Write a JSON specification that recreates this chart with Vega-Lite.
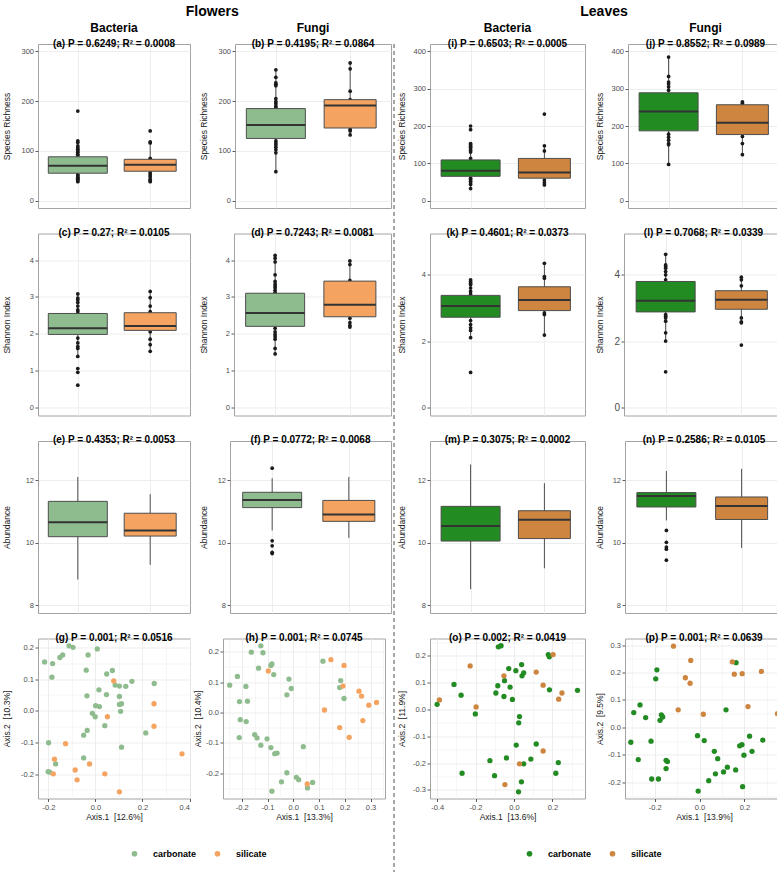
{
"$schema": "https://vega.github.io/schema/vega-lite/v6.json",
"padding": {"left": 1, "top": 4, "right": 0, "bottom": 2},
"background": "white",
"datasets": {
"bx": [
{"p":"a","type":"carbonate","lo":38,"q1":55,"med":70,"q3":88,"hi":120},
{"p":"a","type":"silicate","lo":38,"q1":59,"med":72,"q3":83,"hi":118},
{"p":"b","type":"carbonate","lo":58,"q1":125,"med":152,"q3":185,"hi":263},
{"p":"b","type":"silicate","lo":132,"q1":146,"med":191,"q3":203,"hi":277},
{"p":"i","type":"carbonate","lo":32,"q1":65,"med":80,"q3":109,"hi":153},
{"p":"i","type":"silicate","lo":42,"q1":60,"med":75,"q3":113,"hi":147},
{"p":"j","type":"carbonate","lo":97,"q1":187,"med":239,"q3":289,"hi":385},
{"p":"j","type":"silicate","lo":123,"q1":177,"med":209,"q3":257,"hi":265},
{"p":"c","type":"carbonate","lo":1.35,"q1":1.98,"med":2.15,"q3":2.55,"hi":3.08},
{"p":"c","type":"silicate","lo":1.52,"q1":2.09,"med":2.21,"q3":2.57,"hi":3.15},
{"p":"d","type":"carbonate","lo":1.45,"q1":2.2,"med":2.56,"q3":3.1,"hi":4.13},
{"p":"d","type":"silicate","lo":2.18,"q1":2.46,"med":2.79,"q3":3.43,"hi":3.98},
{"p":"k","type":"carbonate","lo":2.1,"q1":2.72,"med":3.06,"q3":3.38,"hi":3.85},
{"p":"k","type":"silicate","lo":2.18,"q1":2.92,"med":3.24,"q3":3.64,"hi":4.35},
{"p":"l","type":"carbonate","lo":2.0,"q1":2.88,"med":3.22,"q3":3.8,"hi":4.62},
{"p":"l","type":"silicate","lo":2.55,"q1":2.96,"med":3.25,"q3":3.52,"hi":3.93},
{"p":"e","type":"carbonate","lo":8.82,"q1":10.19,"med":10.65,"q3":11.32,"hi":12.1},
{"p":"e","type":"silicate","lo":9.29,"q1":10.21,"med":10.39,"q3":10.94,"hi":11.55},
{"p":"f","type":"carbonate","lo":10.39,"q1":11.12,"med":11.36,"q3":11.61,"hi":12.06},
{"p":"f","type":"silicate","lo":10.15,"q1":10.68,"med":10.9,"q3":11.35,"hi":12.1},
{"p":"m","type":"carbonate","lo":8.51,"q1":10.05,"med":10.53,"q3":11.16,"hi":12.5},
{"p":"m","type":"silicate","lo":9.18,"q1":10.13,"med":10.73,"q3":11.02,"hi":11.9},
{"p":"n","type":"carbonate","lo":10.71,"q1":11.14,"med":11.49,"q3":11.6,"hi":12.29},
{"p":"n","type":"silicate","lo":9.83,"q1":10.74,"med":11.17,"q3":11.46,"hi":12.36},
{"p":"a","type":"carbonate","v":180},{"p":"a","type":"carbonate","v":120},{"p":"a","type":"carbonate","v":117},{"p":"a","type":"carbonate","v":110},{"p":"a","type":"carbonate","v":106},{"p":"a","type":"carbonate","v":103},{"p":"a","type":"carbonate","v":100},{"p":"a","type":"carbonate","v":97},{"p":"a","type":"carbonate","v":93},{"p":"a","type":"carbonate","v":90},{"p":"a","type":"carbonate","v":52},{"p":"a","type":"carbonate","v":50},{"p":"a","type":"carbonate","v":47},{"p":"a","type":"carbonate","v":45},{"p":"a","type":"carbonate","v":43},{"p":"a","type":"carbonate","v":40},{"p":"a","type":"carbonate","v":38},
{"p":"a","type":"silicate","v":140},{"p":"a","type":"silicate","v":118},{"p":"a","type":"silicate","v":116},{"p":"a","type":"silicate","v":85},{"p":"a","type":"silicate","v":56},{"p":"a","type":"silicate","v":52},{"p":"a","type":"silicate","v":48},{"p":"a","type":"silicate","v":43},{"p":"a","type":"silicate","v":40},{"p":"a","type":"silicate","v":38},
{"p":"b","type":"carbonate","v":263},{"p":"b","type":"carbonate","v":248},{"p":"b","type":"carbonate","v":237},{"p":"b","type":"carbonate","v":234},{"p":"b","type":"carbonate","v":231},{"p":"b","type":"carbonate","v":205},{"p":"b","type":"carbonate","v":199},{"p":"b","type":"carbonate","v":195},{"p":"b","type":"carbonate","v":190},{"p":"b","type":"carbonate","v":187},{"p":"b","type":"carbonate","v":120},{"p":"b","type":"carbonate","v":116},{"p":"b","type":"carbonate","v":112},{"p":"b","type":"carbonate","v":107},{"p":"b","type":"carbonate","v":102},{"p":"b","type":"carbonate","v":96},{"p":"b","type":"carbonate","v":58},
{"p":"b","type":"silicate","v":277},{"p":"b","type":"silicate","v":265},{"p":"b","type":"silicate","v":220},{"p":"b","type":"silicate","v":203},{"p":"b","type":"silicate","v":143},{"p":"b","type":"silicate","v":140},{"p":"b","type":"silicate","v":132},
{"p":"i","type":"carbonate","v":200},{"p":"i","type":"carbonate","v":190},{"p":"i","type":"carbonate","v":153},{"p":"i","type":"carbonate","v":150},{"p":"i","type":"carbonate","v":146},{"p":"i","type":"carbonate","v":142},{"p":"i","type":"carbonate","v":138},{"p":"i","type":"carbonate","v":134},{"p":"i","type":"carbonate","v":130},{"p":"i","type":"carbonate","v":113},{"p":"i","type":"carbonate","v":60},{"p":"i","type":"carbonate","v":56},{"p":"i","type":"carbonate","v":52},{"p":"i","type":"carbonate","v":47},{"p":"i","type":"carbonate","v":43},{"p":"i","type":"carbonate","v":32},
{"p":"i","type":"silicate","v":232},{"p":"i","type":"silicate","v":147},{"p":"i","type":"silicate","v":133},{"p":"i","type":"silicate","v":55},{"p":"i","type":"silicate","v":48},{"p":"i","type":"silicate","v":42},
{"p":"j","type":"carbonate","v":385},{"p":"j","type":"carbonate","v":333},{"p":"j","type":"carbonate","v":318},{"p":"j","type":"carbonate","v":313},{"p":"j","type":"carbonate","v":305},{"p":"j","type":"carbonate","v":296},{"p":"j","type":"carbonate","v":178},{"p":"j","type":"carbonate","v":170},{"p":"j","type":"carbonate","v":162},{"p":"j","type":"carbonate","v":153},{"p":"j","type":"carbonate","v":150},{"p":"j","type":"carbonate","v":97},
{"p":"j","type":"silicate","v":265},{"p":"j","type":"silicate","v":261},{"p":"j","type":"silicate","v":172},{"p":"j","type":"silicate","v":153},{"p":"j","type":"silicate","v":123},
{"p":"c","type":"carbonate","v":3.08},{"p":"c","type":"carbonate","v":2.97},{"p":"c","type":"carbonate","v":2.92},{"p":"c","type":"carbonate","v":2.85},{"p":"c","type":"carbonate","v":2.75},{"p":"c","type":"carbonate","v":2.65},{"p":"c","type":"carbonate","v":2.6},{"p":"c","type":"carbonate","v":1.88},{"p":"c","type":"carbonate","v":1.75},{"p":"c","type":"carbonate","v":1.65},{"p":"c","type":"carbonate","v":1.6},{"p":"c","type":"carbonate","v":1.38},{"p":"c","type":"carbonate","v":1.05},{"p":"c","type":"carbonate","v":0.95},{"p":"c","type":"carbonate","v":0.6},
{"p":"c","type":"silicate","v":3.15},{"p":"c","type":"silicate","v":2.98},{"p":"c","type":"silicate","v":2.75},{"p":"c","type":"silicate","v":2.6},{"p":"c","type":"silicate","v":2.05},{"p":"c","type":"silicate","v":1.85},{"p":"c","type":"silicate","v":1.7},{"p":"c","type":"silicate","v":1.52},
{"p":"d","type":"carbonate","v":4.13},{"p":"d","type":"carbonate","v":4.05},{"p":"d","type":"carbonate","v":3.95},{"p":"d","type":"carbonate","v":3.6},{"p":"d","type":"carbonate","v":3.42},{"p":"d","type":"carbonate","v":3.35},{"p":"d","type":"carbonate","v":3.3},{"p":"d","type":"carbonate","v":3.25},{"p":"d","type":"carbonate","v":3.18},{"p":"d","type":"carbonate","v":3.12},{"p":"d","type":"carbonate","v":2.15},{"p":"d","type":"carbonate","v":2.05},{"p":"d","type":"carbonate","v":1.98},{"p":"d","type":"carbonate","v":1.92},{"p":"d","type":"carbonate","v":1.85},{"p":"d","type":"carbonate","v":1.6},{"p":"d","type":"carbonate","v":1.45},
{"p":"d","type":"silicate","v":3.98},{"p":"d","type":"silicate","v":3.88},{"p":"d","type":"silicate","v":3.45},{"p":"d","type":"silicate","v":2.42},{"p":"d","type":"silicate","v":2.3},{"p":"d","type":"silicate","v":2.22},{"p":"d","type":"silicate","v":2.18},
{"p":"k","type":"carbonate","v":3.85},{"p":"k","type":"carbonate","v":3.8},{"p":"k","type":"carbonate","v":3.75},{"p":"k","type":"carbonate","v":3.7},{"p":"k","type":"carbonate","v":3.6},{"p":"k","type":"carbonate","v":3.5},{"p":"k","type":"carbonate","v":3.42},{"p":"k","type":"carbonate","v":2.62},{"p":"k","type":"carbonate","v":2.5},{"p":"k","type":"carbonate","v":2.4},{"p":"k","type":"carbonate","v":2.32},{"p":"k","type":"carbonate","v":2.1},{"p":"k","type":"carbonate","v":1.05},
{"p":"k","type":"silicate","v":4.35},{"p":"k","type":"silicate","v":3.95},{"p":"k","type":"silicate","v":3.9},{"p":"k","type":"silicate","v":2.85},{"p":"k","type":"silicate","v":2.8},{"p":"k","type":"silicate","v":2.18},
{"p":"l","type":"carbonate","v":4.62},{"p":"l","type":"carbonate","v":4.3},{"p":"l","type":"carbonate","v":4.25},{"p":"l","type":"carbonate","v":4.2},{"p":"l","type":"carbonate","v":4.1},{"p":"l","type":"carbonate","v":4.0},{"p":"l","type":"carbonate","v":3.85},{"p":"l","type":"carbonate","v":2.8},{"p":"l","type":"carbonate","v":2.75},{"p":"l","type":"carbonate","v":2.7},{"p":"l","type":"carbonate","v":2.6},{"p":"l","type":"carbonate","v":2.25},{"p":"l","type":"carbonate","v":2.0},{"p":"l","type":"carbonate","v":1.07},
{"p":"l","type":"silicate","v":3.93},{"p":"l","type":"silicate","v":3.85},{"p":"l","type":"silicate","v":3.67},{"p":"l","type":"silicate","v":2.7},{"p":"l","type":"silicate","v":2.58},{"p":"l","type":"silicate","v":2.55},{"p":"l","type":"silicate","v":1.88},
{"p":"f","type":"carbonate","v":12.38},{"p":"f","type":"carbonate","v":10.06},{"p":"f","type":"carbonate","v":9.9},{"p":"f","type":"carbonate","v":9.69},{"p":"f","type":"carbonate","v":9.65},
{"p":"n","type":"carbonate","v":10.39},{"p":"n","type":"carbonate","v":10.01},{"p":"n","type":"carbonate","v":9.86},{"p":"n","type":"carbonate","v":9.79},{"p":"n","type":"carbonate","v":9.44}
],
"ord": [
{"p":"g","type":"carbonate","x":-0.216,"y":0.154},{"p":"g","type":"carbonate","x":-0.182,"y":0.149},{"p":"g","type":"carbonate","x":-0.185,"y":0.106},{"p":"g","type":"carbonate","x":-0.151,"y":0.168},{"p":"g","type":"carbonate","x":-0.139,"y":0.176},{"p":"g","type":"carbonate","x":-0.112,"y":0.205},{"p":"g","type":"carbonate","x":-0.095,"y":0.2},{"p":"g","type":"carbonate","x":-0.031,"y":0.176},{"p":"g","type":"carbonate","x":0.008,"y":0.195},{"p":"g","type":"carbonate","x":-0.039,"y":0.128},{"p":"g","type":"carbonate","x":0.048,"y":0.116},{"p":"g","type":"carbonate","x":0.072,"y":0.127},{"p":"g","type":"carbonate","x":0.084,"y":0.081},{"p":"g","type":"carbonate","x":0.102,"y":0.078},{"p":"g","type":"carbonate","x":0.129,"y":0.077},{"p":"g","type":"carbonate","x":0.155,"y":0.093},{"p":"g","type":"carbonate","x":0.25,"y":0.086},{"p":"g","type":"carbonate","x":0.015,"y":0.066},{"p":"g","type":"carbonate","x":-0.036,"y":0.047},{"p":"g","type":"carbonate","x":0.047,"y":0.051},{"p":"g","type":"carbonate","x":0.102,"y":0.045},{"p":"g","type":"carbonate","x":0.102,"y":0.02},{"p":"g","type":"carbonate","x":0.111,"y":0.022},{"p":"g","type":"carbonate","x":0.107,"y":-0.002},{"p":"g","type":"carbonate","x":0.001,"y":0.016},{"p":"g","type":"carbonate","x":0.017,"y":0.013},{"p":"g","type":"carbonate","x":-0.013,"y":-0.008},{"p":"g","type":"carbonate","x":-0.001,"y":-0.019},{"p":"g","type":"carbonate","x":-0.035,"y":-0.062},{"p":"g","type":"carbonate","x":-0.05,"y":-0.077},{"p":"g","type":"carbonate","x":0.04,"y":-0.047},{"p":"g","type":"carbonate","x":0.214,"y":-0.07},{"p":"g","type":"carbonate","x":0.111,"y":-0.115},{"p":"g","type":"carbonate","x":-0.199,"y":-0.101},{"p":"g","type":"carbonate","x":-0.169,"y":-0.168},{"p":"g","type":"carbonate","x":-0.201,"y":-0.192},{"p":"g","type":"carbonate","x":-0.194,"y":-0.194},{"p":"g","type":"carbonate","x":-0.05,"y":-0.149},
{"p":"g","type":"silicate","x":0.078,"y":0.094},{"p":"g","type":"silicate","x":0.249,"y":0.022},{"p":"g","type":"silicate","x":0.051,"y":-0.019},{"p":"g","type":"silicate","x":0.249,"y":-0.049},{"p":"g","type":"silicate","x":-0.127,"y":-0.104},{"p":"g","type":"silicate","x":-0.174,"y":-0.153},{"p":"g","type":"silicate","x":-0.179,"y":-0.199},{"p":"g","type":"silicate","x":-0.086,"y":-0.187},{"p":"g","type":"silicate","x":-0.078,"y":-0.218},{"p":"g","type":"silicate","x":-0.025,"y":-0.168},{"p":"g","type":"silicate","x":0.04,"y":-0.199},{"p":"g","type":"silicate","x":0.102,"y":-0.256},{"p":"g","type":"silicate","x":0.368,"y":-0.136},
{"p":"h","type":"carbonate","x":-0.247,"y":0.09},{"p":"h","type":"carbonate","x":-0.217,"y":0.119},{"p":"h","type":"carbonate","x":-0.184,"y":0.086},{"p":"h","type":"carbonate","x":-0.209,"y":0.036},{"p":"h","type":"carbonate","x":-0.178,"y":0.037},{"p":"h","type":"carbonate","x":-0.163,"y":0.199},{"p":"h","type":"carbonate","x":-0.126,"y":0.22},{"p":"h","type":"carbonate","x":-0.118,"y":0.197},{"p":"h","type":"carbonate","x":-0.135,"y":0.146},{"p":"h","type":"carbonate","x":-0.087,"y":0.155},{"p":"h","type":"carbonate","x":-0.083,"y":0.16},{"p":"h","type":"carbonate","x":-0.076,"y":0.125},{"p":"h","type":"carbonate","x":-0.017,"y":0.11},{"p":"h","type":"carbonate","x":-0.008,"y":0.079},{"p":"h","type":"carbonate","x":-0.025,"y":0.058},{"p":"h","type":"carbonate","x":-0.206,"y":-0.024},{"p":"h","type":"carbonate","x":-0.183,"y":-0.03},{"p":"h","type":"carbonate","x":-0.21,"y":-0.083},{"p":"h","type":"carbonate","x":-0.15,"y":-0.073},{"p":"h","type":"carbonate","x":-0.141,"y":-0.084},{"p":"h","type":"carbonate","x":-0.102,"y":-0.087},{"p":"h","type":"carbonate","x":-0.126,"y":-0.108},{"p":"h","type":"carbonate","x":-0.087,"y":-0.116},{"p":"h","type":"carbonate","x":-0.072,"y":-0.136},{"p":"h","type":"carbonate","x":-0.063,"y":-0.134},{"p":"h","type":"carbonate","x":-0.025,"y":-0.199},{"p":"h","type":"carbonate","x":-0.046,"y":-0.229},{"p":"h","type":"carbonate","x":0.012,"y":-0.214},{"p":"h","type":"carbonate","x":0.021,"y":-0.222},{"p":"h","type":"carbonate","x":0.039,"y":-0.113},{"p":"h","type":"carbonate","x":0.075,"y":-0.231},{"p":"h","type":"carbonate","x":0.055,"y":-0.249},{"p":"h","type":"carbonate","x":-0.083,"y":-0.26},{"p":"h","type":"carbonate","x":0.115,"y":0.169},{"p":"h","type":"carbonate","x":0.184,"y":0.105},{"p":"h","type":"carbonate","x":0.18,"y":0.082},{"p":"h","type":"carbonate","x":0.197,"y":0.046},
{"p":"h","type":"silicate","x":-0.097,"y":0.137},{"p":"h","type":"silicate","x":0.146,"y":0.174},{"p":"h","type":"silicate","x":0.197,"y":0.155},{"p":"h","type":"silicate","x":0.193,"y":0.087},{"p":"h","type":"silicate","x":0.121,"y":0.008},{"p":"h","type":"silicate","x":0.255,"y":0.07},{"p":"h","type":"silicate","x":0.265,"y":0.054},{"p":"h","type":"silicate","x":0.293,"y":0.024},{"p":"h","type":"silicate","x":0.323,"y":0.033},{"p":"h","type":"silicate","x":0.27,"y":-0.027},{"p":"h","type":"silicate","x":0.18,"y":-0.05},{"p":"h","type":"silicate","x":0.217,"y":-0.082},{"p":"h","type":"silicate","x":0.054,"y":-0.236},
{"p":"o","type":"carbonate","x":-0.4,"y":0.019},{"p":"o","type":"carbonate","x":-0.312,"y":0.093},{"p":"o","type":"carbonate","x":-0.275,"y":0.053},{"p":"o","type":"carbonate","x":-0.201,"y":-0.017},{"p":"o","type":"carbonate","x":-0.081,"y":0.233},{"p":"o","type":"carbonate","x":-0.067,"y":0.237},{"p":"o","type":"carbonate","x":-0.084,"y":0.088},{"p":"o","type":"carbonate","x":-0.094,"y":0.061},{"p":"o","type":"carbonate","x":-0.049,"y":0.107},{"p":"o","type":"carbonate","x":-0.052,"y":0.048},{"p":"o","type":"carbonate","x":-0.027,"y":0.152},{"p":"o","type":"carbonate","x":-0.02,"y":0.083},{"p":"o","type":"carbonate","x":-0.008,"y":0.037},{"p":"o","type":"carbonate","x":0.01,"y":0.144},{"p":"o","type":"carbonate","x":0.04,"y":0.167},{"p":"o","type":"carbonate","x":0.051,"y":0.136},{"p":"o","type":"carbonate","x":0.042,"y":0.125},{"p":"o","type":"carbonate","x":0.029,"y":-0.027},{"p":"o","type":"carbonate","x":0.025,"y":-0.05},{"p":"o","type":"carbonate","x":0.179,"y":0.204},{"p":"o","type":"carbonate","x":0.184,"y":0.196},{"p":"o","type":"carbonate","x":0.185,"y":0.073},{"p":"o","type":"carbonate","x":0.331,"y":0.071},{"p":"o","type":"carbonate","x":0.012,"y":-0.133},{"p":"o","type":"carbonate","x":0.116,"y":-0.129},{"p":"o","type":"carbonate","x":0.088,"y":-0.185},{"p":"o","type":"carbonate","x":0.051,"y":-0.203},{"p":"o","type":"carbonate","x":-0.039,"y":-0.181},{"p":"o","type":"carbonate","x":-0.125,"y":-0.191},{"p":"o","type":"carbonate","x":-0.101,"y":-0.247},{"p":"o","type":"carbonate","x":-0.27,"y":-0.238},{"p":"o","type":"carbonate","x":0.039,"y":-0.27},{"p":"o","type":"carbonate","x":0.024,"y":-0.307},{"p":"o","type":"carbonate","x":0.231,"y":-0.198},{"p":"o","type":"carbonate","x":0.218,"y":-0.238},
{"p":"o","type":"silicate","x":-0.388,"y":0.035},{"p":"o","type":"silicate","x":-0.228,"y":0.162},{"p":"o","type":"silicate","x":-0.197,"y":0.009},{"p":"o","type":"silicate","x":-0.052,"y":0.125},{"p":"o","type":"silicate","x":0.116,"y":0.139},{"p":"o","type":"silicate","x":0.152,"y":0.09},{"p":"o","type":"silicate","x":0.204,"y":0.204},{"p":"o","type":"silicate","x":0.25,"y":0.061},{"p":"o","type":"silicate","x":0.233,"y":0.038},{"p":"o","type":"silicate","x":0.152,"y":-0.155},{"p":"o","type":"silicate","x":0.029,"y":-0.203},{"p":"o","type":"silicate","x":-0.047,"y":-0.28},
{"p":"p","type":"carbonate","x":-0.306,"y":-0.054},{"p":"p","type":"carbonate","x":-0.293,"y":0.054},{"p":"p","type":"carbonate","x":-0.265,"y":0.082},{"p":"p","type":"carbonate","x":-0.24,"y":0.036},{"p":"p","type":"carbonate","x":-0.273,"y":-0.117},{"p":"p","type":"carbonate","x":-0.216,"y":-0.05},{"p":"p","type":"carbonate","x":-0.213,"y":-0.188},{"p":"p","type":"carbonate","x":-0.183,"y":-0.188},{"p":"p","type":"carbonate","x":-0.19,"y":0.21},{"p":"p","type":"carbonate","x":-0.195,"y":0.177},{"p":"p","type":"carbonate","x":-0.17,"y":0.046},{"p":"p","type":"carbonate","x":-0.164,"y":0.038},{"p":"p","type":"carbonate","x":-0.176,"y":0.026},{"p":"p","type":"carbonate","x":-0.149,"y":-0.12},{"p":"p","type":"carbonate","x":-0.143,"y":-0.125},{"p":"p","type":"carbonate","x":-0.149,"y":-0.15},{"p":"p","type":"carbonate","x":-0.009,"y":-0.03},{"p":"p","type":"carbonate","x":0.021,"y":-0.048},{"p":"p","type":"carbonate","x":0.066,"y":-0.087},{"p":"p","type":"carbonate","x":0.081,"y":-0.114},{"p":"p","type":"carbonate","x":0.041,"y":-0.194},{"p":"p","type":"carbonate","x":-0.006,"y":-0.232},{"p":"p","type":"carbonate","x":0.071,"y":-0.169},{"p":"p","type":"carbonate","x":0.107,"y":-0.162},{"p":"p","type":"carbonate","x":0.124,"y":-0.145},{"p":"p","type":"carbonate","x":0.161,"y":-0.155},{"p":"p","type":"carbonate","x":0.179,"y":-0.067},{"p":"p","type":"carbonate","x":0.189,"y":-0.063},{"p":"p","type":"carbonate","x":0.198,"y":-0.101},{"p":"p","type":"carbonate","x":0.223,"y":-0.032},{"p":"p","type":"carbonate","x":0.234,"y":-0.087},{"p":"p","type":"carbonate","x":0.282,"y":-0.046},{"p":"p","type":"carbonate","x":0.192,"y":-0.216},{"p":"p","type":"carbonate","x":0.118,"y":0.064},{"p":"p","type":"carbonate","x":0.163,"y":0.236},
{"p":"p","type":"silicate","x":-0.116,"y":0.296},{"p":"p","type":"silicate","x":-0.039,"y":0.244},{"p":"p","type":"silicate","x":-0.063,"y":0.181},{"p":"p","type":"silicate","x":-0.042,"y":0.161},{"p":"p","type":"silicate","x":0.146,"y":0.239},{"p":"p","type":"silicate","x":0.155,"y":0.194},{"p":"p","type":"silicate","x":0.19,"y":0.196},{"p":"p","type":"silicate","x":0.276,"y":0.204},{"p":"p","type":"silicate","x":-0.095,"y":0.064},{"p":"p","type":"silicate","x":0.017,"y":0.048},{"p":"p","type":"silicate","x":0.216,"y":0.076},{"p":"p","type":"silicate","x":0.347,"y":0.05}
]
},
"config": {
"font": "Liberation Sans",
"view": {"stroke": "#a3a3a3", "strokeWidth": 1},
"axis": {"labelFont": "Liberation Sans", "labelFontSize": 7.5, "labelColor": "#4d4d4d", "tickColor": "#333333", "tickSize": 3, "tickWidth": 0.8, "labelPadding": 1.5, "domain": false, "titleFont": "Liberation Sans", "titleFontSize": 8.5, "titleFontWeight": "normal", "titleColor": "#1a1a1a", "titlePadding": 3, "gridColor": "#ebebeb"},
"axisX": {"titlePadding": 2},
"title": {"font": "Liberation Sans", "fontWeight": "bold", "fontSize": 10, "color": "#000000", "anchor": "middle", "frame": "group", "offset": -4, "subtitleFont": "Liberation Sans", "subtitleFontWeight": "bold", "subtitleFontSize": 10, "subtitleColor": "#000000", "subtitlePadding": 4},
"legend": {"direction": "horizontal", "symbolType": "circle", "symbolSize": 32, "labelFont": "Liberation Sans", "labelFontSize": 9, "labelFontWeight": "bold", "labelColor": "#000000", "columnPadding": 16, "labelOffset": 14, "symbolStrokeWidth": 0, "symbolOpacity": 1}
},
"resolve": {"scale": {"color": "independent"}},
"spacing": 1,
"hconcat": [
{
"title": {"text": "Flowers", "fontSize": 14, "offset": 3, "frame": "bounds", "dx": 14},
"spacing": 1,
"hconcat": [
{
"spacing": 17.5,
"vconcat": [
{"spacing": 7, "hconcat": [
{"width": 152, "height": 164, "title": {"text": "Bacteria", "fontSize": 12, "offset": -6, "subtitle": "(a) P = 0.6249; R\u00b2 = 0.0008"},
"data": {"name": "bx"}, "transform": [{"filter": "datum.p === 'a'"}],
"encoding": {"x": {"field": "type", "type": "nominal", "scale": {"type": "point", "domain": ["carbonate", "silicate"], "padding": 0.55}, "axis": {"labels": false, "ticks": false, "domain": false, "title": null, "grid": true, "gridWidth": 0.9}}},
"layer": [
{"mark": {"type": "rule", "color": "#4d4d4d", "strokeWidth": 1}, "encoding": {"y": {"field": "lo", "type": "quantitative", "scale": {"domain": [-15, 315], "nice": false, "zero": false}, "axis": {"title": "Species Richness", "values": [0, 50, 100, 150, 200, 250, 300], "labelExpr": "datum.value % 100 === 0 ? datum.label : ''", "tickOpacity": {"condition": {"test": "datum.value % 100 === 0", "value": 1}, "value": 0}, "gridWidth": {"condition": {"test": "datum.value % 100 === 0", "value": 0.9}, "value": 0.45}, "minExtent": 24, "maxExtent": 24}}, "y2": {"field": "hi"}}},
{"mark": {"type": "point", "filled": true, "color": "#1a1a1a", "size": 14, "opacity": 1}, "encoding": {"y": {"field": "v", "type": "quantitative"}}},
{"mark": {"type": "bar", "stroke": "#4d4d4d", "strokeWidth": 1}, "encoding": {"y": {"field": "q1", "type": "quantitative"}, "y2": {"field": "q3"}, "color": {"field": "type", "type": "nominal", "scale": {"domain": ["carbonate", "silicate"], "range": ["#8fbc8f", "#f4a460"]}, "legend": {"title": null, "orient": "none", "legendX": 92, "legendY": 805}}, "size": {"field": "type", "type": "nominal", "scale": {"type": "ordinal", "domain": ["carbonate", "silicate"], "range": [59, 52]}, "legend": null}}},
{"mark": {"type": "tick", "color": "#333333", "thickness": 2, "opacity": 1}, "encoding": {"y": {"field": "med", "type": "quantitative"}, "size": {"field": "type", "type": "nominal", "scale": {"type": "ordinal", "domain": ["carbonate", "silicate"], "range": [59, 52]}, "legend": null}}}
]},
{"width": 156, "height": 164, "title": {"text": "Fungi", "fontSize": 12, "offset": -6, "subtitle": "(b) P = 0.4195; R\u00b2 = 0.0864"},
"data": {"name": "bx"}, "transform": [{"filter": "datum.p === 'b'"}],
"encoding": {"x": {"field": "type", "type": "nominal", "scale": {"type": "point", "domain": ["carbonate", "silicate"], "padding": 0.55}, "axis": {"labels": false, "ticks": false, "domain": false, "title": null, "grid": true, "gridWidth": 0.9}}},
"layer": [
{"mark": {"type": "rule", "color": "#4d4d4d", "strokeWidth": 1}, "encoding": {"y": {"field": "lo", "type": "quantitative", "scale": {"domain": [-15, 315], "nice": false, "zero": false}, "axis": {"title": "Species Richness", "values": [0, 50, 100, 150, 200, 250, 300], "labelExpr": "datum.value % 100 === 0 ? datum.label : ''", "tickOpacity": {"condition": {"test": "datum.value % 100 === 0", "value": 1}, "value": 0}, "gridWidth": {"condition": {"test": "datum.value % 100 === 0", "value": 0.9}, "value": 0.45}, "minExtent": 24, "maxExtent": 24}}, "y2": {"field": "hi"}}},
{"mark": {"type": "point", "filled": true, "color": "#1a1a1a", "size": 14, "opacity": 1}, "encoding": {"y": {"field": "v", "type": "quantitative"}}},
{"mark": {"type": "bar", "stroke": "#4d4d4d", "strokeWidth": 1}, "encoding": {"y": {"field": "q1", "type": "quantitative"}, "y2": {"field": "q3"}, "color": {"field": "type", "type": "nominal", "scale": {"domain": ["carbonate", "silicate"], "range": ["#8fbc8f", "#f4a460"]}, "legend": {"title": null, "orient": "none", "legendX": 92, "legendY": 805}}, "size": {"field": "type", "type": "nominal", "scale": {"type": "ordinal", "domain": ["carbonate", "silicate"], "range": [59, 52]}, "legend": null}}},
{"mark": {"type": "tick", "color": "#333333", "thickness": 2, "opacity": 1}, "encoding": {"y": {"field": "med", "type": "quantitative"}, "size": {"field": "type", "type": "nominal", "scale": {"type": "ordinal", "domain": ["carbonate", "silicate"], "range": [59, 52]}, "legend": null}}}
]}
]},
{"spacing": 7, "hconcat": [
{"width": 152, "height": 182, "title": {"text": "(c) P = 0.27; R\u00b2 = 0.0105"},
"data": {"name": "bx"}, "transform": [{"filter": "datum.p === 'c'"}],
"encoding": {"x": {"field": "type", "type": "nominal", "scale": {"type": "point", "domain": ["carbonate", "silicate"], "padding": 0.55}, "axis": {"labels": false, "ticks": false, "domain": false, "title": null, "grid": true, "gridWidth": 0.9}}},
"layer": [
{"mark": {"type": "rule", "color": "#4d4d4d", "strokeWidth": 1}, "encoding": {"y": {"field": "lo", "type": "quantitative", "scale": {"domain": [-0.225, 4.725], "nice": false, "zero": false}, "axis": {"title": "Shannon Index", "values": [0, 0.5, 1, 1.5, 2, 2.5, 3, 3.5, 4, 4.5], "labelExpr": "datum.value % 1 === 0 ? datum.label : ''", "tickOpacity": {"condition": {"test": "datum.value % 1 === 0", "value": 1}, "value": 0}, "gridWidth": {"condition": {"test": "datum.value % 1 === 0", "value": 0.9}, "value": 0.45}, "minExtent": 24, "maxExtent": 24}}, "y2": {"field": "hi"}}},
{"mark": {"type": "point", "filled": true, "color": "#1a1a1a", "size": 14, "opacity": 1}, "encoding": {"y": {"field": "v", "type": "quantitative"}}},
{"mark": {"type": "bar", "stroke": "#4d4d4d", "strokeWidth": 1}, "encoding": {"y": {"field": "q1", "type": "quantitative"}, "y2": {"field": "q3"}, "color": {"field": "type", "type": "nominal", "scale": {"domain": ["carbonate", "silicate"], "range": ["#8fbc8f", "#f4a460"]}, "legend": {"title": null, "orient": "none", "legendX": 92, "legendY": 805}}, "size": {"field": "type", "type": "nominal", "scale": {"type": "ordinal", "domain": ["carbonate", "silicate"], "range": [59, 52]}, "legend": null}}},
{"mark": {"type": "tick", "color": "#333333", "thickness": 2, "opacity": 1}, "encoding": {"y": {"field": "med", "type": "quantitative"}, "size": {"field": "type", "type": "nominal", "scale": {"type": "ordinal", "domain": ["carbonate", "silicate"], "range": [59, 52]}, "legend": null}}}
]},
{"width": 157, "height": 182, "title": {"text": "(d) P = 0.7243; R\u00b2 = 0.0081"},
"data": {"name": "bx"}, "transform": [{"filter": "datum.p === 'd'"}],
"encoding": {"x": {"field": "type", "type": "nominal", "scale": {"type": "point", "domain": ["carbonate", "silicate"], "padding": 0.55}, "axis": {"labels": false, "ticks": false, "domain": false, "title": null, "grid": true, "gridWidth": 0.9}}},
"layer": [
{"mark": {"type": "rule", "color": "#4d4d4d", "strokeWidth": 1}, "encoding": {"y": {"field": "lo", "type": "quantitative", "scale": {"domain": [-0.225, 4.725], "nice": false, "zero": false}, "axis": {"title": "Shannon Index", "values": [0, 0.5, 1, 1.5, 2, 2.5, 3, 3.5, 4, 4.5], "labelExpr": "datum.value % 1 === 0 ? datum.label : ''", "tickOpacity": {"condition": {"test": "datum.value % 1 === 0", "value": 1}, "value": 0}, "gridWidth": {"condition": {"test": "datum.value % 1 === 0", "value": 0.9}, "value": 0.45}, "minExtent": 23, "maxExtent": 23}}, "y2": {"field": "hi"}}},
{"mark": {"type": "point", "filled": true, "color": "#1a1a1a", "size": 14, "opacity": 1}, "encoding": {"y": {"field": "v", "type": "quantitative"}}},
{"mark": {"type": "bar", "stroke": "#4d4d4d", "strokeWidth": 1}, "encoding": {"y": {"field": "q1", "type": "quantitative"}, "y2": {"field": "q3"}, "color": {"field": "type", "type": "nominal", "scale": {"domain": ["carbonate", "silicate"], "range": ["#8fbc8f", "#f4a460"]}, "legend": {"title": null, "orient": "none", "legendX": 92, "legendY": 805}}, "size": {"field": "type", "type": "nominal", "scale": {"type": "ordinal", "domain": ["carbonate", "silicate"], "range": [59, 52]}, "legend": null}}},
{"mark": {"type": "tick", "color": "#333333", "thickness": 2, "opacity": 1}, "encoding": {"y": {"field": "med", "type": "quantitative"}, "size": {"field": "type", "type": "nominal", "scale": {"type": "ordinal", "domain": ["carbonate", "silicate"], "range": [59, 52]}, "legend": null}}}
]}
]},
{"spacing": 7, "hconcat": [
{"width": 152, "height": 172, "title": {"text": "(e) P = 0.4353; R\u00b2 = 0.0053"},
"data": {"name": "bx"}, "transform": [{"filter": "datum.p === 'e'"}],
"encoding": {"x": {"field": "type", "type": "nominal", "scale": {"type": "point", "domain": ["carbonate", "silicate"], "padding": 0.55}, "axis": {"labels": false, "ticks": false, "domain": false, "title": null, "grid": true, "gridWidth": 0.9}}},
"layer": [
{"mark": {"type": "rule", "color": "#4d4d4d", "strokeWidth": 1}, "encoding": {"y": {"field": "lo", "type": "quantitative", "scale": {"domain": [7.75, 13.25], "nice": false, "zero": false}, "axis": {"title": "Abundance", "values": [8, 8.5, 9, 9.5, 10, 10.5, 11, 11.5, 12, 12.5, 13], "labelExpr": "datum.value % 1 === 0 ? datum.label : ''", "tickOpacity": {"condition": {"test": "datum.value % 1 === 0", "value": 1}, "value": 0}, "gridWidth": {"condition": {"test": "datum.value % 1 === 0", "value": 0.9}, "value": 0.45}, "minExtent": 24, "maxExtent": 24}}, "y2": {"field": "hi"}}},
{"mark": {"type": "point", "filled": true, "color": "#1a1a1a", "size": 14, "opacity": 1}, "encoding": {"y": {"field": "v", "type": "quantitative"}}},
{"mark": {"type": "bar", "stroke": "#4d4d4d", "strokeWidth": 1}, "encoding": {"y": {"field": "q1", "type": "quantitative"}, "y2": {"field": "q3"}, "color": {"field": "type", "type": "nominal", "scale": {"domain": ["carbonate", "silicate"], "range": ["#8fbc8f", "#f4a460"]}, "legend": {"title": null, "orient": "none", "legendX": 92, "legendY": 805}}, "size": {"field": "type", "type": "nominal", "scale": {"type": "ordinal", "domain": ["carbonate", "silicate"], "range": [59, 52]}, "legend": null}}},
{"mark": {"type": "tick", "color": "#333333", "thickness": 2, "opacity": 1}, "encoding": {"y": {"field": "med", "type": "quantitative"}, "size": {"field": "type", "type": "nominal", "scale": {"type": "ordinal", "domain": ["carbonate", "silicate"], "range": [59, 52]}, "legend": null}}}
]},
{"width": 161, "height": 172, "title": {"text": "(f) P = 0.0772; R\u00b2 = 0.0068"},
"data": {"name": "bx"}, "transform": [{"filter": "datum.p === 'f'"}],
"encoding": {"x": {"field": "type", "type": "nominal", "scale": {"type": "point", "domain": ["carbonate", "silicate"], "padding": 0.55}, "axis": {"labels": false, "ticks": false, "domain": false, "title": null, "grid": true, "gridWidth": 0.9}}},
"layer": [
{"mark": {"type": "rule", "color": "#4d4d4d", "strokeWidth": 1}, "encoding": {"y": {"field": "lo", "type": "quantitative", "scale": {"domain": [7.75, 13.25], "nice": false, "zero": false}, "axis": {"title": "Abundance", "values": [8, 8.5, 9, 9.5, 10, 10.5, 11, 11.5, 12, 12.5, 13], "labelExpr": "datum.value % 1 === 0 ? datum.label : ''", "tickOpacity": {"condition": {"test": "datum.value % 1 === 0", "value": 1}, "value": 0}, "gridWidth": {"condition": {"test": "datum.value % 1 === 0", "value": 0.9}, "value": 0.45}, "minExtent": 19, "maxExtent": 19}}, "y2": {"field": "hi"}}},
{"mark": {"type": "point", "filled": true, "color": "#1a1a1a", "size": 14, "opacity": 1}, "encoding": {"y": {"field": "v", "type": "quantitative"}}},
{"mark": {"type": "bar", "stroke": "#4d4d4d", "strokeWidth": 1}, "encoding": {"y": {"field": "q1", "type": "quantitative"}, "y2": {"field": "q3"}, "color": {"field": "type", "type": "nominal", "scale": {"domain": ["carbonate", "silicate"], "range": ["#8fbc8f", "#f4a460"]}, "legend": {"title": null, "orient": "none", "legendX": 92, "legendY": 805}}, "size": {"field": "type", "type": "nominal", "scale": {"type": "ordinal", "domain": ["carbonate", "silicate"], "range": [59, 52]}, "legend": null}}},
{"mark": {"type": "tick", "color": "#333333", "thickness": 2, "opacity": 1}, "encoding": {"y": {"field": "med", "type": "quantitative"}, "size": {"field": "type", "type": "nominal", "scale": {"type": "ordinal", "domain": ["carbonate", "silicate"], "range": [59, 52]}, "legend": null}}}
]}
]},
{"spacing": 1, "hconcat": [
{"width": 152, "height": 160, "title": {"text": "(g) P = 0.001; R\u00b2 = 0.0516"},
"data": {"name": "ord"}, "transform": [{"filter": "datum.p === 'g'"}],
"mark": {"type": "point", "filled": true, "size": 28, "opacity": 1},
"encoding": {
"x": {"field": "x", "type": "quantitative", "scale": {"domain": [-0.244, 0.402], "nice": false, "zero": false}, "axis": {"title": "Axis.1 \u00a0[12.6%]", "values": [-0.2, -0.1, 0, 0.1, 0.2, 0.3, 0.4], "labelExpr": "abs(datum.value*5-round(datum.value*5))<0.000001 ? replace(format(datum.value,'.1f'),'\u2212','-') : ''", "tickOpacity": {"condition": {"test": "abs(datum.value*5-round(datum.value*5))<0.000001", "value": 1}, "value": 0}, "gridWidth": {"condition": {"test": "abs(datum.value*5-round(datum.value*5))<0.000001", "value": 0.9}, "value": 0.45}}},
"y": {"field": "y", "type": "quantitative", "scale": {"domain": [-0.277, 0.228], "nice": false, "zero": false}, "axis": {"title": "Axis.2 \u00a0[10.3%]", "values": [-0.25, -0.2, -0.15, -0.1, -0.05, 0, 0.05, 0.1, 0.15, 0.2], "labelExpr": "abs(datum.value*10-round(datum.value*10))<0.000001 ? replace(format(datum.value,'.1f'),'\u2212','-') : ''", "tickOpacity": {"condition": {"test": "abs(datum.value*10-round(datum.value*10))<0.000001", "value": 1}, "value": 0}, "gridWidth": {"condition": {"test": "abs(datum.value*10-round(datum.value*10))<0.000001", "value": 0.9}, "value": 0.45}, "minExtent": 24, "maxExtent": 24}},
"color": {"field": "type", "type": "nominal", "scale": {"domain": ["carbonate", "silicate"], "range": ["#8fbc8f", "#f4a460"]}, "legend": {"title": null, "orient": "none", "legendX": 92, "legendY": 805}}
}},
{"width": 162, "height": 160, "title": {"text": "(h) P = 0.001; R\u00b2 = 0.0745"},
"data": {"name": "ord"}, "transform": [{"filter": "datum.p === 'h'"}],
"mark": {"type": "point", "filled": true, "size": 28, "opacity": 1},
"encoding": {
"x": {"field": "x", "type": "quantitative", "scale": {"domain": [-0.273, 0.356], "nice": false, "zero": false}, "axis": {"title": "Axis.1 \u00a0[13.3%]", "values": [-0.25, -0.2, -0.15, -0.1, -0.05, 0, 0.05, 0.1, 0.15, 0.2, 0.25, 0.3, 0.35], "labelExpr": "abs(datum.value*10-round(datum.value*10))<0.000001 ? replace(format(datum.value,'.1f'),'\u2212','-') : ''", "tickOpacity": {"condition": {"test": "abs(datum.value*10-round(datum.value*10))<0.000001", "value": 1}, "value": 0}, "gridWidth": {"condition": {"test": "abs(datum.value*10-round(datum.value*10))<0.000001", "value": 0.9}, "value": 0.45}}},
"y": {"field": "y", "type": "quantitative", "scale": {"domain": [-0.284, 0.244], "nice": false, "zero": false}, "axis": {"title": "Axis.2 \u00a0[10.4%]", "values": [-0.25, -0.2, -0.15, -0.1, -0.05, 0, 0.05, 0.1, 0.15, 0.2], "labelExpr": "abs(datum.value*10-round(datum.value*10))<0.000001 ? replace(format(datum.value,'.1f'),'\u2212','-') : ''", "tickOpacity": {"condition": {"test": "abs(datum.value*10-round(datum.value*10))<0.000001", "value": 1}, "value": 0}, "gridWidth": {"condition": {"test": "abs(datum.value*10-round(datum.value*10))<0.000001", "value": 0.9}, "value": 0.45}, "minExtent": 18, "maxExtent": 18}},
"color": {"field": "type", "type": "nominal", "scale": {"domain": ["carbonate", "silicate"], "range": ["#8fbc8f", "#f4a460"]}, "legend": {"title": null, "orient": "none", "legendX": 92, "legendY": 805}}
}}
]}
]
},
{"width": 2, "height": 828, "data": {"values": [{"s": 0.5}]}, "mark": {"type": "rule", "color": "#4d4d4d", "strokeDash": [4, 3], "strokeWidth": 1}, "encoding": {"x": {"field": "s", "type": "quantitative", "scale": {"domain": [0, 1]}, "axis": null}}, "view": {"stroke": null}}
]
},
{
"title": {"text": "Leaves", "fontSize": 14, "offset": 3, "frame": "bounds", "dx": 14},
"spacing": 17.5,
"vconcat": [
{"spacing": 8, "hconcat": [
{"width": 155, "height": 164, "title": {"text": "Bacteria", "fontSize": 12, "offset": -6, "subtitle": "(i) P = 0.6503; R\u00b2 = 0.0005"},
"data": {"name": "bx"}, "transform": [{"filter": "datum.p === 'i'"}],
"encoding": {"x": {"field": "type", "type": "nominal", "scale": {"type": "point", "domain": ["carbonate", "silicate"], "padding": 0.55}, "axis": {"labels": false, "ticks": false, "domain": false, "title": null, "grid": true, "gridWidth": 0.9}}},
"layer": [
{"mark": {"type": "rule", "color": "#4d4d4d", "strokeWidth": 1}, "encoding": {"y": {"field": "lo", "type": "quantitative", "scale": {"domain": [-20, 420], "nice": false, "zero": false}, "axis": {"title": "Species Richness", "values": [0, 50, 100, 150, 200, 250, 300, 350, 400], "labelExpr": "datum.value % 100 === 0 ? datum.label : ''", "tickOpacity": {"condition": {"test": "datum.value % 100 === 0", "value": 1}, "value": 0}, "gridWidth": {"condition": {"test": "datum.value % 100 === 0", "value": 0.9}, "value": 0.45}, "minExtent": 21, "maxExtent": 21}}, "y2": {"field": "hi"}}},
{"mark": {"type": "point", "filled": true, "color": "#1a1a1a", "size": 14, "opacity": 1}, "encoding": {"y": {"field": "v", "type": "quantitative"}}},
{"mark": {"type": "bar", "stroke": "#4d4d4d", "strokeWidth": 1}, "encoding": {"y": {"field": "q1", "type": "quantitative"}, "y2": {"field": "q3"}, "color": {"field": "type", "type": "nominal", "scale": {"domain": ["carbonate", "silicate"], "range": ["#228b22", "#cd853f"]}, "legend": {"title": null, "orient": "none", "legendX": 95, "legendY": 805}}, "size": {"field": "type", "type": "nominal", "scale": {"type": "ordinal", "domain": ["carbonate", "silicate"], "range": [59, 52]}, "legend": null}}},
{"mark": {"type": "tick", "color": "#333333", "thickness": 2, "opacity": 1}, "encoding": {"y": {"field": "med", "type": "quantitative"}, "size": {"field": "type", "type": "nominal", "scale": {"type": "ordinal", "domain": ["carbonate", "silicate"], "range": [59, 52]}, "legend": null}}}
]},
{"width": 155, "height": 164, "title": {"text": "Fungi", "fontSize": 12, "offset": -6, "subtitle": "(j) P = 0.8552; R\u00b2 = 0.0989"},
"data": {"name": "bx"}, "transform": [{"filter": "datum.p === 'j'"}],
"encoding": {"x": {"field": "type", "type": "nominal", "scale": {"type": "point", "domain": ["carbonate", "silicate"], "padding": 0.55}, "axis": {"labels": false, "ticks": false, "domain": false, "title": null, "grid": true, "gridWidth": 0.9}}},
"layer": [
{"mark": {"type": "rule", "color": "#4d4d4d", "strokeWidth": 1}, "encoding": {"y": {"field": "lo", "type": "quantitative", "scale": {"domain": [-20, 420], "nice": false, "zero": false}, "axis": {"title": "Species Richness", "values": [0, 50, 100, 150, 200, 250, 300, 350, 400], "labelExpr": "datum.value % 100 === 0 ? datum.label : ''", "tickOpacity": {"condition": {"test": "datum.value % 100 === 0", "value": 1}, "value": 0}, "gridWidth": {"condition": {"test": "datum.value % 100 === 0", "value": 0.9}, "value": 0.45}, "minExtent": 21, "maxExtent": 21}}, "y2": {"field": "hi"}}},
{"mark": {"type": "point", "filled": true, "color": "#1a1a1a", "size": 14, "opacity": 1}, "encoding": {"y": {"field": "v", "type": "quantitative"}}},
{"mark": {"type": "bar", "stroke": "#4d4d4d", "strokeWidth": 1}, "encoding": {"y": {"field": "q1", "type": "quantitative"}, "y2": {"field": "q3"}, "color": {"field": "type", "type": "nominal", "scale": {"domain": ["carbonate", "silicate"], "range": ["#228b22", "#cd853f"]}, "legend": {"title": null, "orient": "none", "legendX": 95, "legendY": 805}}, "size": {"field": "type", "type": "nominal", "scale": {"type": "ordinal", "domain": ["carbonate", "silicate"], "range": [59, 52]}, "legend": null}}},
{"mark": {"type": "tick", "color": "#333333", "thickness": 2, "opacity": 1}, "encoding": {"y": {"field": "med", "type": "quantitative"}, "size": {"field": "type", "type": "nominal", "scale": {"type": "ordinal", "domain": ["carbonate", "silicate"], "range": [59, 52]}, "legend": null}}}
]}
]},
{"spacing": 8, "hconcat": [
{"width": 155, "height": 182, "title": {"text": "(k) P = 0.4601; R\u00b2 = 0.0373"},
"data": {"name": "bx"}, "transform": [{"filter": "datum.p === 'k'"}],
"encoding": {"x": {"field": "type", "type": "nominal", "scale": {"type": "point", "domain": ["carbonate", "silicate"], "padding": 0.55}, "axis": {"labels": false, "ticks": false, "domain": false, "title": null, "grid": true, "gridWidth": 0.9}}},
"layer": [
{"mark": {"type": "rule", "color": "#4d4d4d", "strokeWidth": 1}, "encoding": {"y": {"field": "lo", "type": "quantitative", "scale": {"domain": [-0.25, 5.25], "nice": false, "zero": false}, "axis": {"title": "Shannon Index", "values": [0, 0.5, 1, 1.5, 2, 2.5, 3, 3.5, 4, 4.5, 5], "labelExpr": "datum.value % 1 === 0 ? datum.label : ''", "tickOpacity": {"condition": {"test": "datum.value % 1 === 0", "value": 1}, "value": 0}, "gridWidth": {"condition": {"test": "datum.value % 1 === 0", "value": 0.9}, "value": 0.45}, "minExtent": 21, "maxExtent": 21}}, "y2": {"field": "hi"}}},
{"mark": {"type": "point", "filled": true, "color": "#1a1a1a", "size": 14, "opacity": 1}, "encoding": {"y": {"field": "v", "type": "quantitative"}}},
{"mark": {"type": "bar", "stroke": "#4d4d4d", "strokeWidth": 1}, "encoding": {"y": {"field": "q1", "type": "quantitative"}, "y2": {"field": "q3"}, "color": {"field": "type", "type": "nominal", "scale": {"domain": ["carbonate", "silicate"], "range": ["#228b22", "#cd853f"]}, "legend": {"title": null, "orient": "none", "legendX": 95, "legendY": 805}}, "size": {"field": "type", "type": "nominal", "scale": {"type": "ordinal", "domain": ["carbonate", "silicate"], "range": [59, 52]}, "legend": null}}},
{"mark": {"type": "tick", "color": "#333333", "thickness": 2, "opacity": 1}, "encoding": {"y": {"field": "med", "type": "quantitative"}, "size": {"field": "type", "type": "nominal", "scale": {"type": "ordinal", "domain": ["carbonate", "silicate"], "range": [59, 52]}, "legend": null}}}
]},
{"width": 159, "height": 182, "title": {"text": "(l) P = 0.7068; R\u00b2 = 0.0339"},
"data": {"name": "bx"}, "transform": [{"filter": "datum.p === 'l'"}],
"encoding": {"x": {"field": "type", "type": "nominal", "scale": {"type": "point", "domain": ["carbonate", "silicate"], "padding": 0.55}, "axis": {"labels": false, "ticks": false, "domain": false, "title": null, "grid": true, "gridWidth": 0.9}}},
"layer": [
{"mark": {"type": "rule", "color": "#4d4d4d", "strokeWidth": 1}, "encoding": {"y": {"field": "lo", "type": "quantitative", "scale": {"domain": [-0.25, 5.25], "nice": false, "zero": false}, "axis": {"title": "Shannon Index", "labelFontSize": 10, "values": [0, 0.5, 1, 1.5, 2, 2.5, 3, 3.5, 4, 4.5, 5], "labelExpr": "datum.value % 1 === 0 ? datum.label : ''", "tickOpacity": {"condition": {"test": "datum.value % 1 === 0", "value": 1}, "value": 0}, "gridWidth": {"condition": {"test": "datum.value % 1 === 0", "value": 0.9}, "value": 0.45}, "minExtent": 17, "maxExtent": 17}}, "y2": {"field": "hi"}}},
{"mark": {"type": "point", "filled": true, "color": "#1a1a1a", "size": 14, "opacity": 1}, "encoding": {"y": {"field": "v", "type": "quantitative"}}},
{"mark": {"type": "bar", "stroke": "#4d4d4d", "strokeWidth": 1}, "encoding": {"y": {"field": "q1", "type": "quantitative"}, "y2": {"field": "q3"}, "color": {"field": "type", "type": "nominal", "scale": {"domain": ["carbonate", "silicate"], "range": ["#228b22", "#cd853f"]}, "legend": {"title": null, "orient": "none", "legendX": 95, "legendY": 805}}, "size": {"field": "type", "type": "nominal", "scale": {"type": "ordinal", "domain": ["carbonate", "silicate"], "range": [59, 52]}, "legend": null}}},
{"mark": {"type": "tick", "color": "#333333", "thickness": 2, "opacity": 1}, "encoding": {"y": {"field": "med", "type": "quantitative"}, "size": {"field": "type", "type": "nominal", "scale": {"type": "ordinal", "domain": ["carbonate", "silicate"], "range": [59, 52]}, "legend": null}}}
]}
]},
{"spacing": 8, "hconcat": [
{"width": 155, "height": 172, "title": {"text": "(m) P = 0.3075; R\u00b2 = 0.0002"},
"data": {"name": "bx"}, "transform": [{"filter": "datum.p === 'm'"}],
"encoding": {"x": {"field": "type", "type": "nominal", "scale": {"type": "point", "domain": ["carbonate", "silicate"], "padding": 0.55}, "axis": {"labels": false, "ticks": false, "domain": false, "title": null, "grid": true, "gridWidth": 0.9}}},
"layer": [
{"mark": {"type": "rule", "color": "#4d4d4d", "strokeWidth": 1}, "encoding": {"y": {"field": "lo", "type": "quantitative", "scale": {"domain": [7.75, 13.25], "nice": false, "zero": false}, "axis": {"title": "Abundance", "values": [8, 8.5, 9, 9.5, 10, 10.5, 11, 11.5, 12, 12.5, 13], "labelExpr": "datum.value % 1 === 0 ? datum.label : ''", "tickOpacity": {"condition": {"test": "datum.value % 1 === 0", "value": 1}, "value": 0}, "gridWidth": {"condition": {"test": "datum.value % 1 === 0", "value": 0.9}, "value": 0.45}, "minExtent": 21, "maxExtent": 21}}, "y2": {"field": "hi"}}},
{"mark": {"type": "point", "filled": true, "color": "#1a1a1a", "size": 14, "opacity": 1}, "encoding": {"y": {"field": "v", "type": "quantitative"}}},
{"mark": {"type": "bar", "stroke": "#4d4d4d", "strokeWidth": 1}, "encoding": {"y": {"field": "q1", "type": "quantitative"}, "y2": {"field": "q3"}, "color": {"field": "type", "type": "nominal", "scale": {"domain": ["carbonate", "silicate"], "range": ["#228b22", "#cd853f"]}, "legend": {"title": null, "orient": "none", "legendX": 95, "legendY": 805}}, "size": {"field": "type", "type": "nominal", "scale": {"type": "ordinal", "domain": ["carbonate", "silicate"], "range": [59, 52]}, "legend": null}}},
{"mark": {"type": "tick", "color": "#333333", "thickness": 2, "opacity": 1}, "encoding": {"y": {"field": "med", "type": "quantitative"}, "size": {"field": "type", "type": "nominal", "scale": {"type": "ordinal", "domain": ["carbonate", "silicate"], "range": [59, 52]}, "legend": null}}}
]},
{"width": 158, "height": 172, "title": {"text": "(n) P = 0.2586; R\u00b2 = 0.0105"},
"data": {"name": "bx"}, "transform": [{"filter": "datum.p === 'n'"}],
"encoding": {"x": {"field": "type", "type": "nominal", "scale": {"type": "point", "domain": ["carbonate", "silicate"], "padding": 0.55}, "axis": {"labels": false, "ticks": false, "domain": false, "title": null, "grid": true, "gridWidth": 0.9}}},
"layer": [
{"mark": {"type": "rule", "color": "#4d4d4d", "strokeWidth": 1}, "encoding": {"y": {"field": "lo", "type": "quantitative", "scale": {"domain": [7.75, 13.25], "nice": false, "zero": false}, "axis": {"title": "Abundance", "values": [8, 8.5, 9, 9.5, 10, 10.5, 11, 11.5, 12, 12.5, 13], "labelExpr": "datum.value % 1 === 0 ? datum.label : ''", "tickOpacity": {"condition": {"test": "datum.value % 1 === 0", "value": 1}, "value": 0}, "gridWidth": {"condition": {"test": "datum.value % 1 === 0", "value": 0.9}, "value": 0.45}, "minExtent": 18, "maxExtent": 18}}, "y2": {"field": "hi"}}},
{"mark": {"type": "point", "filled": true, "color": "#1a1a1a", "size": 14, "opacity": 1}, "encoding": {"y": {"field": "v", "type": "quantitative"}}},
{"mark": {"type": "bar", "stroke": "#4d4d4d", "strokeWidth": 1}, "encoding": {"y": {"field": "q1", "type": "quantitative"}, "y2": {"field": "q3"}, "color": {"field": "type", "type": "nominal", "scale": {"domain": ["carbonate", "silicate"], "range": ["#228b22", "#cd853f"]}, "legend": {"title": null, "orient": "none", "legendX": 95, "legendY": 805}}, "size": {"field": "type", "type": "nominal", "scale": {"type": "ordinal", "domain": ["carbonate", "silicate"], "range": [59, 52]}, "legend": null}}},
{"mark": {"type": "tick", "color": "#333333", "thickness": 2, "opacity": 1}, "encoding": {"y": {"field": "med", "type": "quantitative"}, "size": {"field": "type", "type": "nominal", "scale": {"type": "ordinal", "domain": ["carbonate", "silicate"], "range": [59, 52]}, "legend": null}}}
]}
]},
{"spacing": 8, "hconcat": [
{"width": 155, "height": 160, "title": {"text": "(o) P = 0.002; R\u00b2 = 0.0419"},
"data": {"name": "ord"}, "transform": [{"filter": "datum.p === 'o'"}],
"mark": {"type": "point", "filled": true, "size": 28, "opacity": 1},
"encoding": {
"x": {"field": "x", "type": "quantitative", "scale": {"domain": [-0.437, 0.37], "nice": false, "zero": false}, "axis": {"title": "Axis.1 \u00a0[13.6%]", "values": [-0.4, -0.3, -0.2, -0.1, 0, 0.1, 0.2, 0.3], "labelExpr": "abs(datum.value*5-round(datum.value*5))<0.000001 ? replace(format(datum.value,'.1f'),'\u2212','-') : ''", "tickOpacity": {"condition": {"test": "abs(datum.value*5-round(datum.value*5))<0.000001", "value": 1}, "value": 0}, "gridWidth": {"condition": {"test": "abs(datum.value*5-round(datum.value*5))<0.000001", "value": 0.9}, "value": 0.45}}},
"y": {"field": "y", "type": "quantitative", "scale": {"domain": [-0.332, 0.264], "nice": false, "zero": false}, "axis": {"title": "Axis.2 \u00a0[11.9%]", "values": [-0.3, -0.25, -0.2, -0.15, -0.1, -0.05, 0, 0.05, 0.1, 0.15, 0.2, 0.25], "labelExpr": "abs(datum.value*10-round(datum.value*10))<0.000001 ? replace(format(datum.value,'.1f'),'\u2212','-') : ''", "tickOpacity": {"condition": {"test": "abs(datum.value*10-round(datum.value*10))<0.000001", "value": 1}, "value": 0}, "gridWidth": {"condition": {"test": "abs(datum.value*10-round(datum.value*10))<0.000001", "value": 0.9}, "value": 0.45}, "minExtent": 21, "maxExtent": 21}},
"color": {"field": "type", "type": "nominal", "scale": {"domain": ["carbonate", "silicate"], "range": ["#228b22", "#cd853f"]}, "legend": {"title": null, "orient": "none", "legendX": 95, "legendY": 805}}
}},
{"width": 158, "height": 160, "title": {"text": "(p) P = 0.001; R\u00b2 = 0.0639"},
"data": {"name": "ord"}, "transform": [{"filter": "datum.p === 'p'"}],
"mark": {"type": "point", "filled": true, "size": 28, "opacity": 1},
"encoding": {
"x": {"field": "x", "type": "quantitative", "scale": {"domain": [-0.332, 0.372], "nice": false, "zero": false}, "axis": {"title": "Axis.1 \u00a0[13.9%]", "values": [-0.3, -0.2, -0.1, 0, 0.1, 0.2, 0.3], "labelExpr": "abs(datum.value*5-round(datum.value*5))<0.000001 ? replace(format(datum.value,'.1f'),'\u2212','-') : ''", "tickOpacity": {"condition": {"test": "abs(datum.value*5-round(datum.value*5))<0.000001", "value": 1}, "value": 0}, "gridWidth": {"condition": {"test": "abs(datum.value*5-round(datum.value*5))<0.000001", "value": 0.9}, "value": 0.45}}},
"y": {"field": "y", "type": "quantitative", "scale": {"domain": [-0.259, 0.324], "nice": false, "zero": false}, "axis": {"title": "Axis.2 \u00a0[9.5%]", "values": [-0.25, -0.2, -0.15, -0.1, -0.05, 0, 0.05, 0.1, 0.15, 0.2, 0.25, 0.3], "labelExpr": "abs(datum.value*10-round(datum.value*10))<0.000001 ? replace(format(datum.value,'.1f'),'\u2212','-') : ''", "tickOpacity": {"condition": {"test": "abs(datum.value*10-round(datum.value*10))<0.000001", "value": 1}, "value": 0}, "gridWidth": {"condition": {"test": "abs(datum.value*10-round(datum.value*10))<0.000001", "value": 0.9}, "value": 0.45}, "minExtent": 18, "maxExtent": 18}},
"color": {"field": "type", "type": "nominal", "scale": {"domain": ["carbonate", "silicate"], "range": ["#228b22", "#cd853f"]}, "legend": {"title": null, "orient": "none", "legendX": 95, "legendY": 805}}
}}
]}
]
}
]
}
